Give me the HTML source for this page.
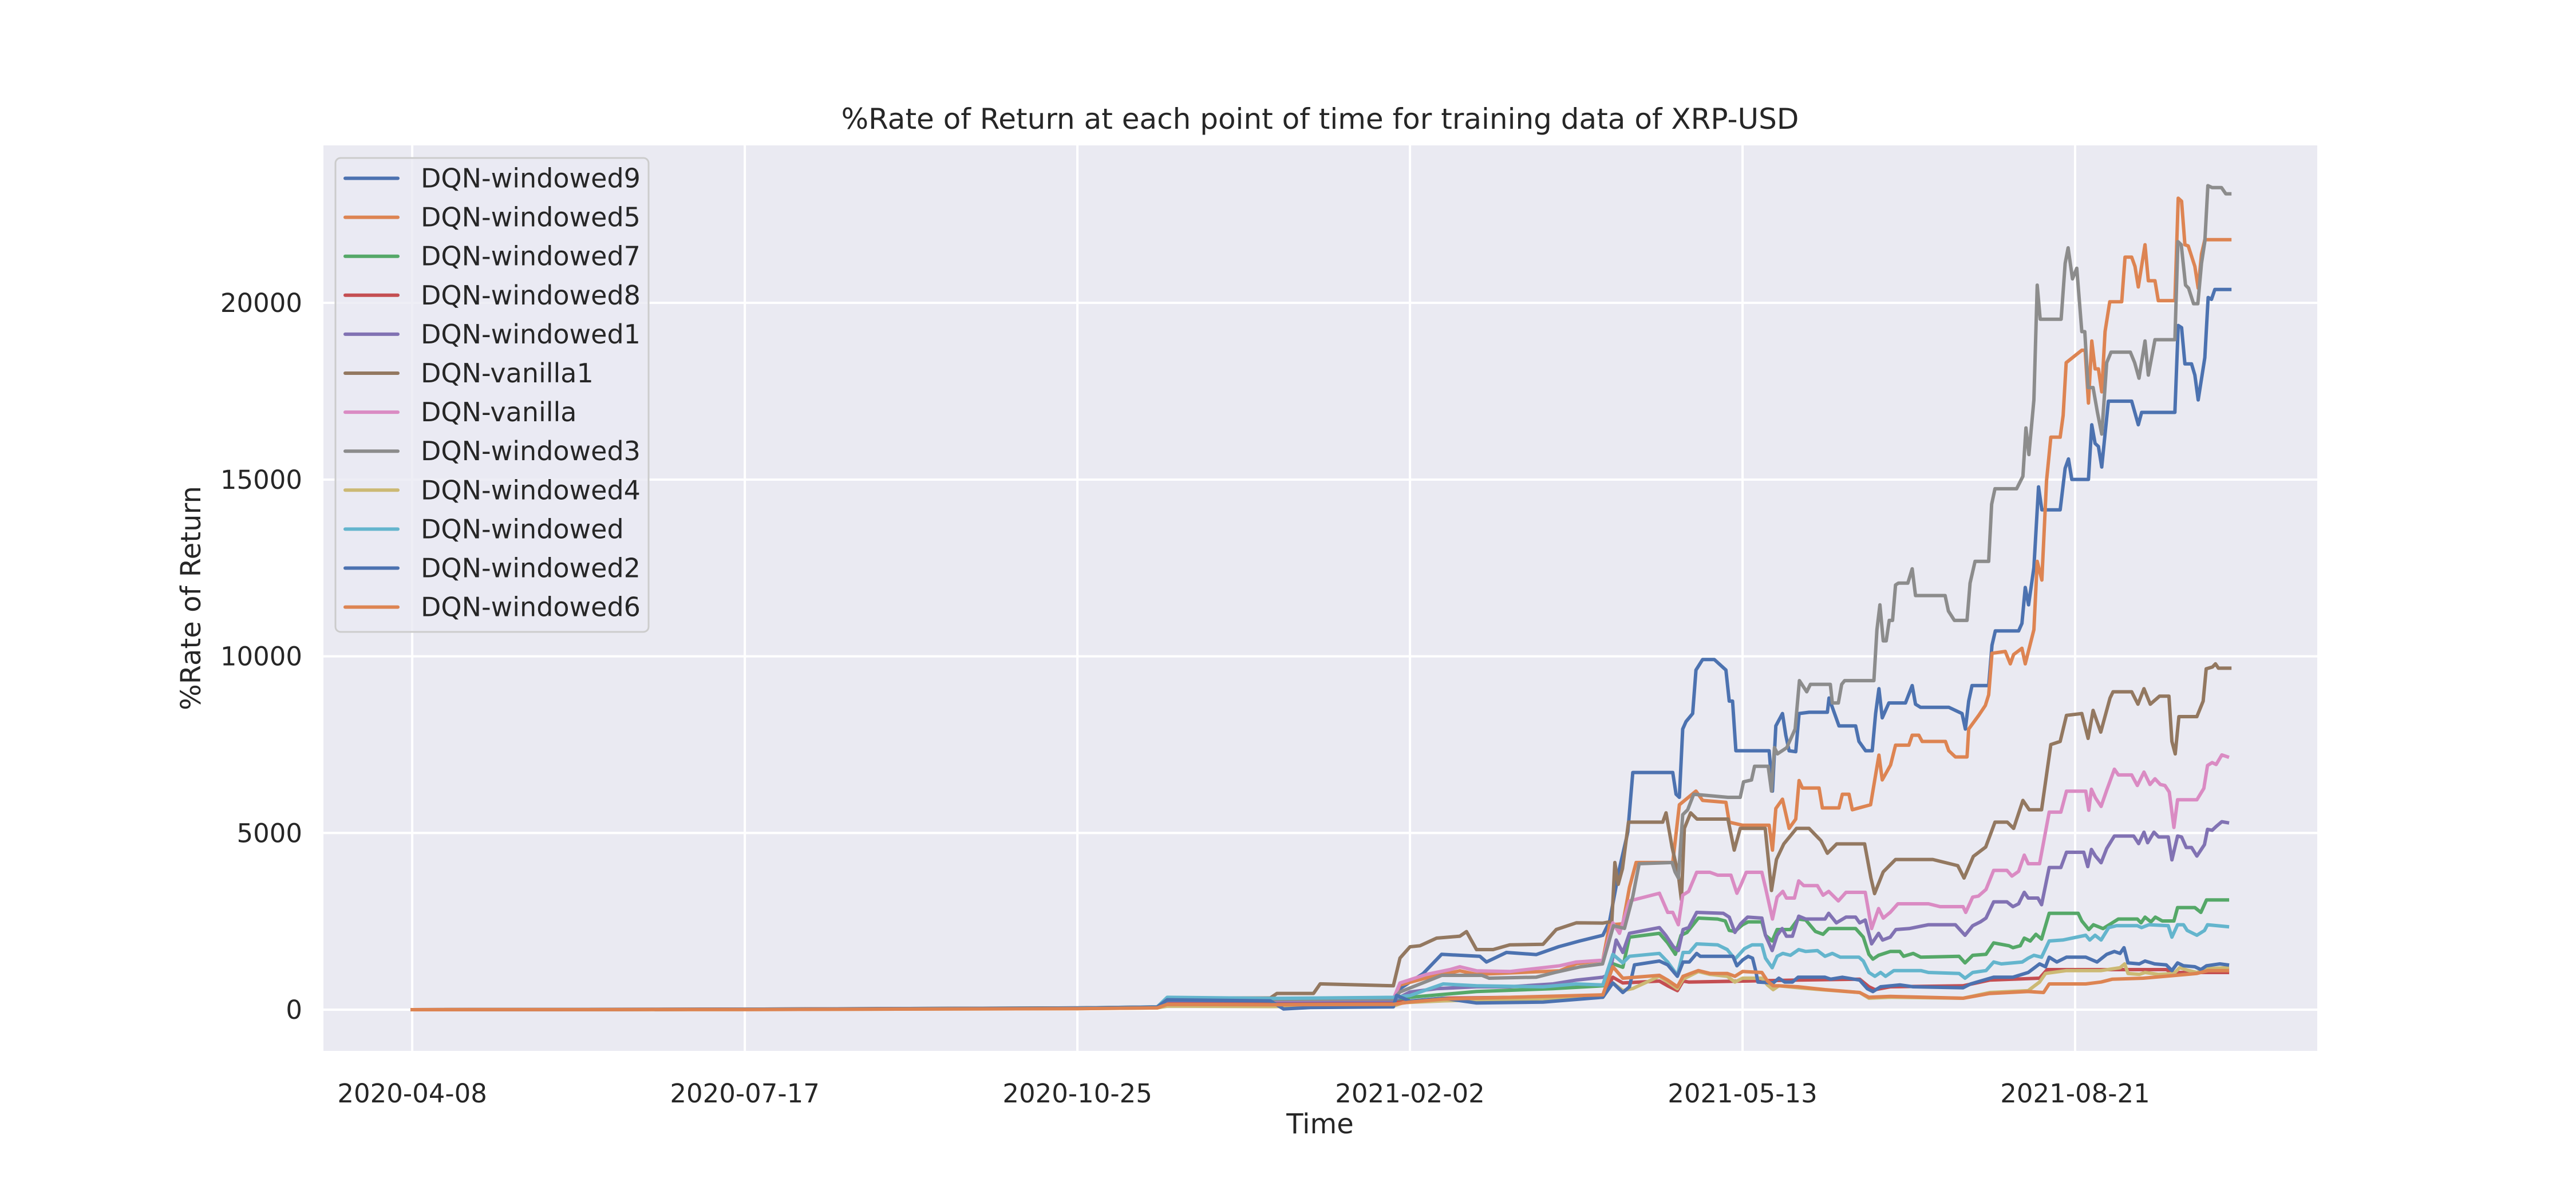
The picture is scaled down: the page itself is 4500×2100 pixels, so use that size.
<!DOCTYPE html>
<html><head><meta charset="utf-8"><style>
html,body{margin:0;padding:0;background:#fff;}
svg{display:block;font-family:"DejaVu Sans","Liberation Sans",sans-serif;}
</style></head><body>
<svg id="chart" width="4500" height="2100" viewBox="0 0 4500 2100">
<rect x="0" y="0" width="4500" height="2100" fill="#ffffff"/>
<rect x="565" y="254" width="3483" height="1582" fill="#EAEAF2"/>
<g id="grid"></g>
<g id="lines"></g>
<g id="ticks"></g>
<text x="2306" y="225" text-anchor="middle" font-size="50" fill="#262626">%Rate of Return at each point of time for training data of XRP-USD</text>
<text x="2306" y="1980" text-anchor="middle" font-size="48" fill="#262626">Time</text>
<text x="0" y="0" transform="translate(350,1045) rotate(-90)" text-anchor="middle" font-size="48" fill="#262626">%Rate of Return</text>
<g id="legend"></g>
</svg>
<script>
const xTickDays = [0, 100, 200, 300, 400, 500];
const xTickLabels = ["2020-04-08", "2020-07-17", "2020-10-25", "2021-02-02", "2021-05-13", "2021-08-21"];
const yTicks = [0, 5000, 10000, 15000, 20000];
const yTickLabels = ["0", "5000", "10000", "15000", "20000"];
const seriesNames = ["DQN-windowed9","DQN-windowed5","DQN-windowed7","DQN-windowed8","DQN-windowed1","DQN-vanilla1","DQN-vanilla","DQN-windowed3","DQN-windowed4","DQN-windowed","DQN-windowed2","DQN-windowed6"];

const W9 = [[0,0],[100,15],[200,50],[224,80],[227,330],[258,300],[262,250],[295,300],[297,594],[304,1026],[309.5,1566],[321,1512],[323,1350],[329,1620],[338,1560],[344.7,1782],[351,1944],[358,2106],[360,2500],[363,4000],[365.5,5022],[367,6712],[379,6712],[380,6097],[381,6009],[382,7942],[383,8152],[385,8381],[386,9611],[388,9909],[391.5,9909],[395,9611],[396,8732],[397,8732],[398,7327],[408,7327],[409,6185],[410,8030],[412,8381],[413,7766],[414,7327],[416,7300],[417,8381],[420,8416],[425.5,8416],[426,8820],[429,8030],[434,8030],[435,7590],[437,7327],[439,7327],[440,8381],[441,9084],[442,8258],[444,8680],[449,8680],[451,9172],[452,8644],[453.5,8557],[462,8557],[466,8381],[467,7942],[468,8732],[469,9172],[474,9172],[475,10313],[476,10718],[483,10718],[484,10929],[485,11948],[486,11456],[487.6,12510],[489,14794],[490,14144],[495.5,14144],[497,15321],[498,15585],[499,15005],[504,15005],[505,16551],[506,16024],[507,15936],[508,15356],[510,17219],[517,17219],[519,16551],[520,16902],[530,16902],[531,19362],[532,19300],[533,18273],[535,18273],[536,17957],[537,17254],[539,18449],[540,20153],[541,20100],[542,20381],[546.5,20381]];
const W5 = [[0,0],[100,10],[200,45],[224,70],[227,300],[258,280],[295,300],[297,700],[305,900],[315,1100],[320,1000],[345,1100],[350,1300],[358,1400],[360,2400],[364,2430],[366,3461],[368,4164],[379,4164],[381,5798],[386,6185],[388,5921],[395,5868],[396,5306],[400,5218],[408,5218],[409,4515],[410,5693],[412,5956],[414,5130],[416,5394],[417,6483],[418,6273],[423,6273],[424,5710],[429,5710],[430,6097],[432,6097],[433,5657],[438.5,5798],[441,7204],[442,6501],[444.5,6923],[446,7485],[450,7485],[451,7766],[453,7766],[454,7590],[461,7590],[462,7327],[464,7151],[467.5,7151],[468,7942],[471,8328],[473,8609],[474,8908],[475,10085],[479,10138],[480.5,9786],[481.5,10050],[484,10226],[485,9786],[487.6,10753],[488.6,12686],[490,12158],[491.4,14970],[492.7,16200],[495.5,16200],[496.4,16815],[497.3,18308],[502,18660],[503,18660],[504,17166],[505,18923],[506,18132],[507,18132],[508,17482],[509,19187],[510.4,20030],[514,20030],[515,21296],[517,21296],[518,21031],[519,20452],[521,21646],[522,20627],[524,20627],[525,20065],[530,20065],[531,22964],[532,22876],[533,21646],[534,21611],[536,21031],[537,20416],[538,21383],[539,21787],[546.5,21787]];
const W7 = [[0,0],[100,10],[200,40],[224,70],[227,200],[258,200],[295,220],[300,350],[320,513],[343,594],[358,675],[361,1300],[364,1200],[366,2052],[375,2160],[377.5,1890],[379.8,1566],[381.5,2106],[383.3,2187],[386.7,2592],[392.5,2565],[394.8,2511],[396,2241],[397.7,2214],[400,2403],[401.7,2484],[405.8,2484],[406.9,2106],[408.9,1944],[410.4,2268],[414.4,2268],[416.7,2565],[419,2538],[421.9,2214],[424.2,2133],[425.9,2295],[434,2295],[436.3,2052],[438,1566],[439.2,1431],[440.9,1539],[444.4,1647],[447.3,1647],[448.4,1512],[451.3,1593],[453.6,1485],[465.1,1512],[466.9,1323],[469.2,1539],[473.2,1566],[475.5,1890],[480.1,1809],[481.3,1755],[483.5,1809],[484.7,2025],[486.5,1944],[488.2,2133],[489.9,1998],[492.2,2727],[500.9,2727],[502,2511],[504.1,2268],[505.5,2403],[508.4,2295],[510.7,2430],[513,2565],[518.7,2565],[519.8,2457],[521,2619],[522.8,2484],[524.1,2619],[526.2,2511],[529.7,2511],[530.8,2889],[536,2889],[537.8,2754],[539.5,3105],[545.8,3105]];
const W8 = [[0,0],[100,10],[200,40],[224,60],[227,200],[258,190],[295,200],[310,324],[358,380],[361,918],[364,756],[375,810],[377.5,675],[380.4,540],[382.1,810],[383.8,783],[416.7,837],[435.2,864],[438,648],[439.8,567],[444.4,648],[466.3,675],[474.3,837],[489.3,891],[491.6,1134],[527.4,1134],[529.1,1053],[545.8,1053]];
const W1 = [[0,0],[100,10],[200,40],[224,70],[227,260],[258,250],[295,260],[300,500],[308,594],[320,648],[330,648],[343,729],[350,837],[358,918],[360,1000],[362,1971],[364,1620],[366,2160],[375,2322],[376.9,2106],[379.2,1782],[380.7,1674],[382.1,2268],[383.8,2322],[386.2,2754],[394.2,2727],[396,2619],[397.7,2187],[399.4,2430],[401.5,2619],[405.8,2592],[406.9,2106],[408.9,1674],[410.4,2106],[411.9,2295],[413.2,2079],[415,2079],[416.9,2646],[419,2565],[424.8,2565],[425.9,2727],[428.2,2457],[431.1,2619],[434,2619],[435.2,2457],[436.9,2538],[438.8,1863],[440.9,2160],[442.1,1971],[444.4,2052],[446.1,2268],[450.1,2295],[455.9,2403],[464,2403],[466.9,2106],[469.2,2376],[471.5,2484],[473.2,2592],[475.5,3051],[479.5,3051],[481.3,2916],[483,2997],[484.7,3321],[485.9,3159],[488.8,3159],[489.9,2970],[492.2,4023],[495.7,4023],[497.4,4455],[502.6,4455],[503.8,4050],[504.9,4536],[506.1,4347],[507.8,4158],[509.5,4563],[511.8,4914],[517.6,4914],[519.1,4698],[520.7,5022],[521.8,4725],[523.7,5022],[525.1,4887],[528,4887],[529.1,4239],[530.8,4914],[532,4887],[533.4,4590],[535,4590],[536.6,4347],[538.9,4671],[539.8,5103],[541.2,5076],[542.4,5184],[544.1,5319],[545.8,5292]];
const V1 = [[0,0],[100,15],[200,50],[224,80],[227,330],[258,330],[260,460],[271,460],[273,730],[295,675],[297,1460],[300,1780],[303,1810],[308,2025],[315,2080],[317,2210],[320,1700],[325,1700],[330,1836],[340,1850],[344,2270],[350,2457],[358,2450],[360.7,2495],[361.6,4164],[362.6,3549],[363.9,3990],[365.7,5306],[376,5306],[377,5570],[378.8,4603],[380.7,3813],[381.6,3110],[382.5,5130],[384.4,5570],[386.3,5394],[395.6,5394],[397.5,4515],[399.3,5130],[406.8,5130],[408.7,3373],[410.2,4251],[412.4,4690],[416.2,5130],[420,5130],[423.6,4779],[425.5,4427],[428.3,4690],[436.7,4690],[438.6,3725],[439.7,3285],[442.3,3900],[446,4250],[457.2,4250],[464.7,4075],[466.6,3725],[469.4,4339],[473.1,4603],[475.9,5306],[479.6,5306],[481.5,5130],[484.3,5921],[486.2,5657],[489.9,5657],[492.7,7502],[495.5,7590],[497.4,8328],[502,8381],[503.9,7678],[505.4,8469],[507.7,7854],[510.5,8820],[511.4,8995],[517,8995],[518.9,8644],[520.7,9084],[522.6,8644],[525.4,8873],[528.2,8873],[529.1,7590],[530.1,7239],[531.2,8293],[536.6,8293],[538.5,8732],[539.4,9646],[541.3,9698],[542.2,9786],[543.1,9663],[546.5,9663]];
const V0 = [[0,0],[100,12],[200,45],[224,75],[227,300],[258,280],[295,300],[297,756],[305,1000],[312,1134],[315,1215],[320,1100],[330,1080],[345,1242],[350,1350],[358,1400],[361,2457],[363,2160],[366,3078],[375,3294],[377.5,2754],[379,2754],[380.7,2403],[382,3240],[383.8,3348],[386.2,3888],[390.2,3888],[392.5,3807],[396.5,3807],[398.3,3294],[399.4,3510],[401.1,3888],[405.8,3888],[406.9,3456],[409,2565],[410.4,3186],[412.1,3348],[413.2,3159],[415.6,3159],[416.9,3645],[418.4,3510],[422.5,3510],[424.2,3240],[425.9,3348],[428.8,3078],[431.1,3321],[436.9,3321],[438.8,2295],[440.9,2862],[442.3,2592],[444.4,2754],[446.7,2997],[455.9,2997],[459.4,2916],[466.3,2916],[467.1,2754],[469.2,3186],[470.9,3213],[473.2,3402],[475.5,3942],[479.5,3942],[481,3780],[483,3915],[484.7,4374],[485.9,4131],[489.3,4131],[492.2,5589],[495.7,5589],[497.4,6183],[503.2,6183],[504.1,5643],[504.9,6237],[506.1,5994],[507.8,5751],[509.5,6210],[511.8,6804],[513,6642],[517,6642],[518.7,6345],[520.7,6723],[522.5,6372],[524,6534],[525.6,6372],[527,6345],[528.3,6156],[529.7,5157],[530.8,5940],[536.6,5940],[538.7,6264],[539.8,6912],[541.2,6993],[542.4,6939],[544.1,7209],[545.8,7155]];
const W3 = [[0,0],[100,12],[200,45],[224,75],[227,320],[258,290],[295,300],[297,500],[309.6,972],[321.6,972],[323.8,891],[338,920],[343.6,1053],[351.3,1215],[357.9,1296],[361.2,2376],[364.5,2300],[367,3200],[368.9,4131],[378.8,4164],[379.7,3900],[380.7,3725],[382,5517],[383.5,5658],[385.3,6097],[395.6,6009],[399.3,6009],[400.3,6448],[402.7,6500],[403.6,6887],[407.7,6887],[408.7,6185],[409.6,7415],[410.5,7240],[413.3,7415],[415.8,7942],[417.1,9312],[419.3,8996],[420.4,9207],[426.4,9207],[427,8680],[428.8,8680],[429.8,9207],[430.7,9312],[439.5,9312],[440.4,10753],[441.3,11456],[442.3,10437],[443.2,10437],[444.1,11016],[445.1,11016],[446,12018],[446.9,12071],[449.7,12071],[451,12475],[452,11719],[460.9,11719],[461.9,11280],[463.7,11016],[467.5,11016],[468.4,12071],[469.9,12686],[474,12686],[474.9,14302],[475.9,14741],[482.4,14741],[484.3,15093],[485.2,16463],[486.1,15708],[487.6,17254],[488.6,20504],[489.5,19538],[495.8,19538],[497,21119],[497.9,21558],[499.2,20680],[500.5,20979],[502,19187],[502.9,19187],[503.9,17605],[505.4,17605],[506.7,16902],[508,16287],[509.5,18308],[510.8,18607],[516.6,18607],[517.9,18308],[519.2,17869],[521,18923],[522,17957],[524,18958],[530,18958],[530.9,21734],[531.9,21646],[533.2,20504],[534.1,20416],[535.6,19977],[536.9,19977],[538,21119],[539,21734],[539.9,23316],[541.2,23263],[544,23263],[545.3,23087],[546.5,23087]];
const W4 = [[0,0],[100,5],[200,30],[224,50],[227,100],[258,90],[295,100],[298,200],[310,250],[358,350],[361,756],[364,540],[367,600],[375,945],[377.5,783],[380.4,594],[382.1,864],[386.7,1080],[390.2,999],[395.4,945],[397.7,783],[400,891],[405.8,891],[407.5,702],[409.2,567],[410.9,675],[416.7,621],[423.6,567],[435.2,486],[438,324],[444.4,351],[466.3,324],[474.3,486],[485.9,540],[489.3,783],[491.1,1026],[497.4,1107],[507.8,1107],[513.5,1188],[514.9,1296],[515.9,1026],[519.3,999],[521,1053],[525.1,999],[529.7,1026],[531.4,1188],[534.3,1107],[536.6,1053],[540,1161],[545.8,1188]];
const W0 = [[0,0],[100,12],[200,45],[224,75],[227,350],[258,320],[295,350],[300,400],[310,729],[320,675],[340,648],[350,729],[358,700],[361,1566],[364,1323],[366,1512],[375,1593],[377.5,1350],[380.4,972],[382.1,1620],[384,1620],[386.2,1863],[392.5,1836],[395.4,1701],[397.7,1431],[400.6,1728],[402.9,1836],[405.8,1836],[406.9,1458],[408.9,1188],[410.4,1512],[412.1,1593],[414.4,1539],[416.9,1701],[419,1647],[422.5,1674],[424.8,1512],[427,1593],[429.4,1485],[435,1485],[436.3,1377],[438,1053],[439.8,945],[441.5,1053],[443,945],[445.5,1107],[453.6,1107],[455.9,1053],[465.1,1026],[466.9,891],[469.2,1053],[473.2,1107],[475.5,1350],[477.8,1296],[484.1,1350],[485.9,1458],[487.6,1539],[489.9,1485],[492.2,1944],[496.3,1971],[503.2,2106],[504.4,1971],[506,2106],[507.8,1971],[510.1,2322],[512.4,2376],[518.7,2376],[520,2322],[522.2,2403],[528,2376],[529.1,2052],[530.8,2403],[532.6,2403],[533.7,2241],[536.6,2106],[538.9,2241],[539.8,2403],[545.8,2349]];
const W2 = [[0,0],[100,10],[200,40],[224,70],[227,280],[258,250],[262,20],[270,60],[295,80],[296,405],[300,243],[310,324],[320,189],[340,216],[358,351],[361,756],[364,486],[366,648],[367.5,1269],[375,1377],[377.5,1269],[380.4,945],[382.1,1350],[384,1350],[386.2,1593],[387.3,1512],[397.1,1512],[398.3,1242],[400,1404],[401.7,1512],[403,1458],[404,1080],[404.6,783],[409.2,756],[410.9,891],[412.7,783],[415,783],[416.7,918],[424.8,918],[426.5,864],[430,918],[435.2,837],[437.5,594],[439.2,513],[441.5,648],[447.3,702],[451.3,648],[466.3,621],[468.6,729],[475.5,918],[481.3,918],[485.9,1053],[489.3,1296],[491.1,1215],[492.2,1485],[494.5,1350],[497.4,1485],[503.2,1485],[506.6,1350],[509.5,1566],[511.8,1647],[513.5,1593],[514.7,1755],[515.9,1323],[519.3,1296],[521,1377],[523.9,1296],[527.4,1269],[529.1,1107],[530.8,1323],[532.6,1242],[536,1215],[537.8,1134],[539.5,1242],[543.5,1296],[545.8,1269]];
const W6 = [[0,0],[100,5],[200,30],[224,50],[227,150],[258,140],[295,150],[300,216],[310,300],[358,420],[361,1215],[364,891],[375,972],[377.5,837],[380.4,648],[382.1,945],[386.7,1107],[390.2,1026],[395.4,1026],[397.7,945],[400,1080],[405.8,1053],[407.5,810],[409.2,675],[410.9,675],[416.7,648],[424.8,567],[435.2,486],[438,351],[444.4,378],[466.3,324],[474.3,459],[485.9,513],[490.5,486],[492.2,729],[503.2,729],[507.8,783],[511.2,864],[520.5,891],[530.3,972],[536.6,1026],[540,1107],[545.8,1107]];

const seriesData = [W9, W5, W7, W8, W1, V1, V0, W3, W4, W0, W2, W6];
const seriesColors = ["#4C72B0","#DD8452","#55A868","#C44E52","#8172B3","#937860","#DA8BC3","#8C8C8C","#CCB974","#64B5CD","#4C72B0","#DD8452"];

const NS = "http://www.w3.org/2000/svg";
const plot = {left:565, right:4048, top:254, bottom:1836};
const xDomain = [-26.7, 572.8];
const yDomain = [-1166, 24457];
function xScale(d){ return plot.left + (d - xDomain[0]) / (xDomain[1] - xDomain[0]) * (plot.right - plot.left); }
function yScale(v){ return plot.bottom - (v - yDomain[0]) / (yDomain[1] - yDomain[0]) * (plot.bottom - plot.top); }

const grid = document.getElementById('grid');
const ticks = document.getElementById('ticks');
xTickDays.forEach((d, i) => {
  const ln = document.createElementNS(NS, 'line');
  ln.setAttribute('x1', xScale(d)); ln.setAttribute('x2', xScale(d));
  ln.setAttribute('y1', plot.top); ln.setAttribute('y2', plot.bottom);
  ln.setAttribute('stroke', '#ffffff'); ln.setAttribute('stroke-width', '4');
  
  
  grid.appendChild(ln);
  const t = document.createElementNS(NS, 'text');
  t.setAttribute('x', xScale(d)); t.setAttribute('y', 1926);
  t.setAttribute('text-anchor', 'middle'); t.setAttribute('font-size', '45'); t.setAttribute('fill', '#262626');
  t.textContent = xTickLabels[i];
  
  
  ticks.appendChild(t);
});
yTicks.forEach((v, i) => {
  const ln = document.createElementNS(NS, 'line');
  ln.setAttribute('x1', plot.left); ln.setAttribute('x2', plot.right);
  ln.setAttribute('y1', yScale(v)); ln.setAttribute('y2', yScale(v));
  ln.setAttribute('stroke', '#ffffff'); ln.setAttribute('stroke-width', '4');
  
  
  grid.appendChild(ln);
  const t = document.createElementNS(NS, 'text');
  t.setAttribute('x', 528); t.setAttribute('y', yScale(v) + 16);
  t.setAttribute('text-anchor', 'end'); t.setAttribute('font-size', '45'); t.setAttribute('fill', '#262626');
  t.textContent = yTickLabels[i];
  
  
  ticks.appendChild(t);
});

const lines = document.getElementById('lines');
seriesData.forEach((pts, i) => {
  const p = document.createElementNS(NS, 'polyline');
  p.setAttribute('points', pts.map(q => xScale(q[0]).toFixed(1) + ',' + yScale(q[1]).toFixed(1)).join(' '));
  p.setAttribute('fill', 'none'); p.setAttribute('stroke', seriesColors[i]);
  p.setAttribute('stroke-width', '6'); p.setAttribute('stroke-linejoin', 'round'); p.setAttribute('stroke-linecap', 'square');
  
  
  lines.appendChild(p);
});

const legend = document.getElementById('legend');
const box = document.createElementNS(NS, 'rect');
box.setAttribute('x', 586); box.setAttribute('y', 276); box.setAttribute('width', 547); box.setAttribute('height', 828);
box.setAttribute('rx', 9); box.setAttribute('fill', 'rgba(234,234,242,0.8)');
box.setAttribute('stroke', '#cccccc'); box.setAttribute('stroke-width', '3');


legend.appendChild(box);
seriesNames.forEach((n, i) => {
  const cy = 311.5 + i * 68.1;
  const g = document.createElementNS(NS, 'g');
  
  
  const ln = document.createElementNS(NS, 'line');
  ln.setAttribute('x1', 603); ln.setAttribute('x2', 695); ln.setAttribute('y1', cy); ln.setAttribute('y2', cy);
  ln.setAttribute('stroke', seriesColors[i]); ln.setAttribute('stroke-width', '6'); ln.setAttribute('stroke-linecap', 'round');
  
  
  g.appendChild(ln);
  const t = document.createElementNS(NS, 'text');
  t.setAttribute('x', 735); t.setAttribute('y', cy + 16);
  t.setAttribute('font-size', '46'); t.setAttribute('fill', '#262626');
  t.textContent = n;
  
  
  g.appendChild(t);
  legend.appendChild(g);
});
</script>
</body></html>
